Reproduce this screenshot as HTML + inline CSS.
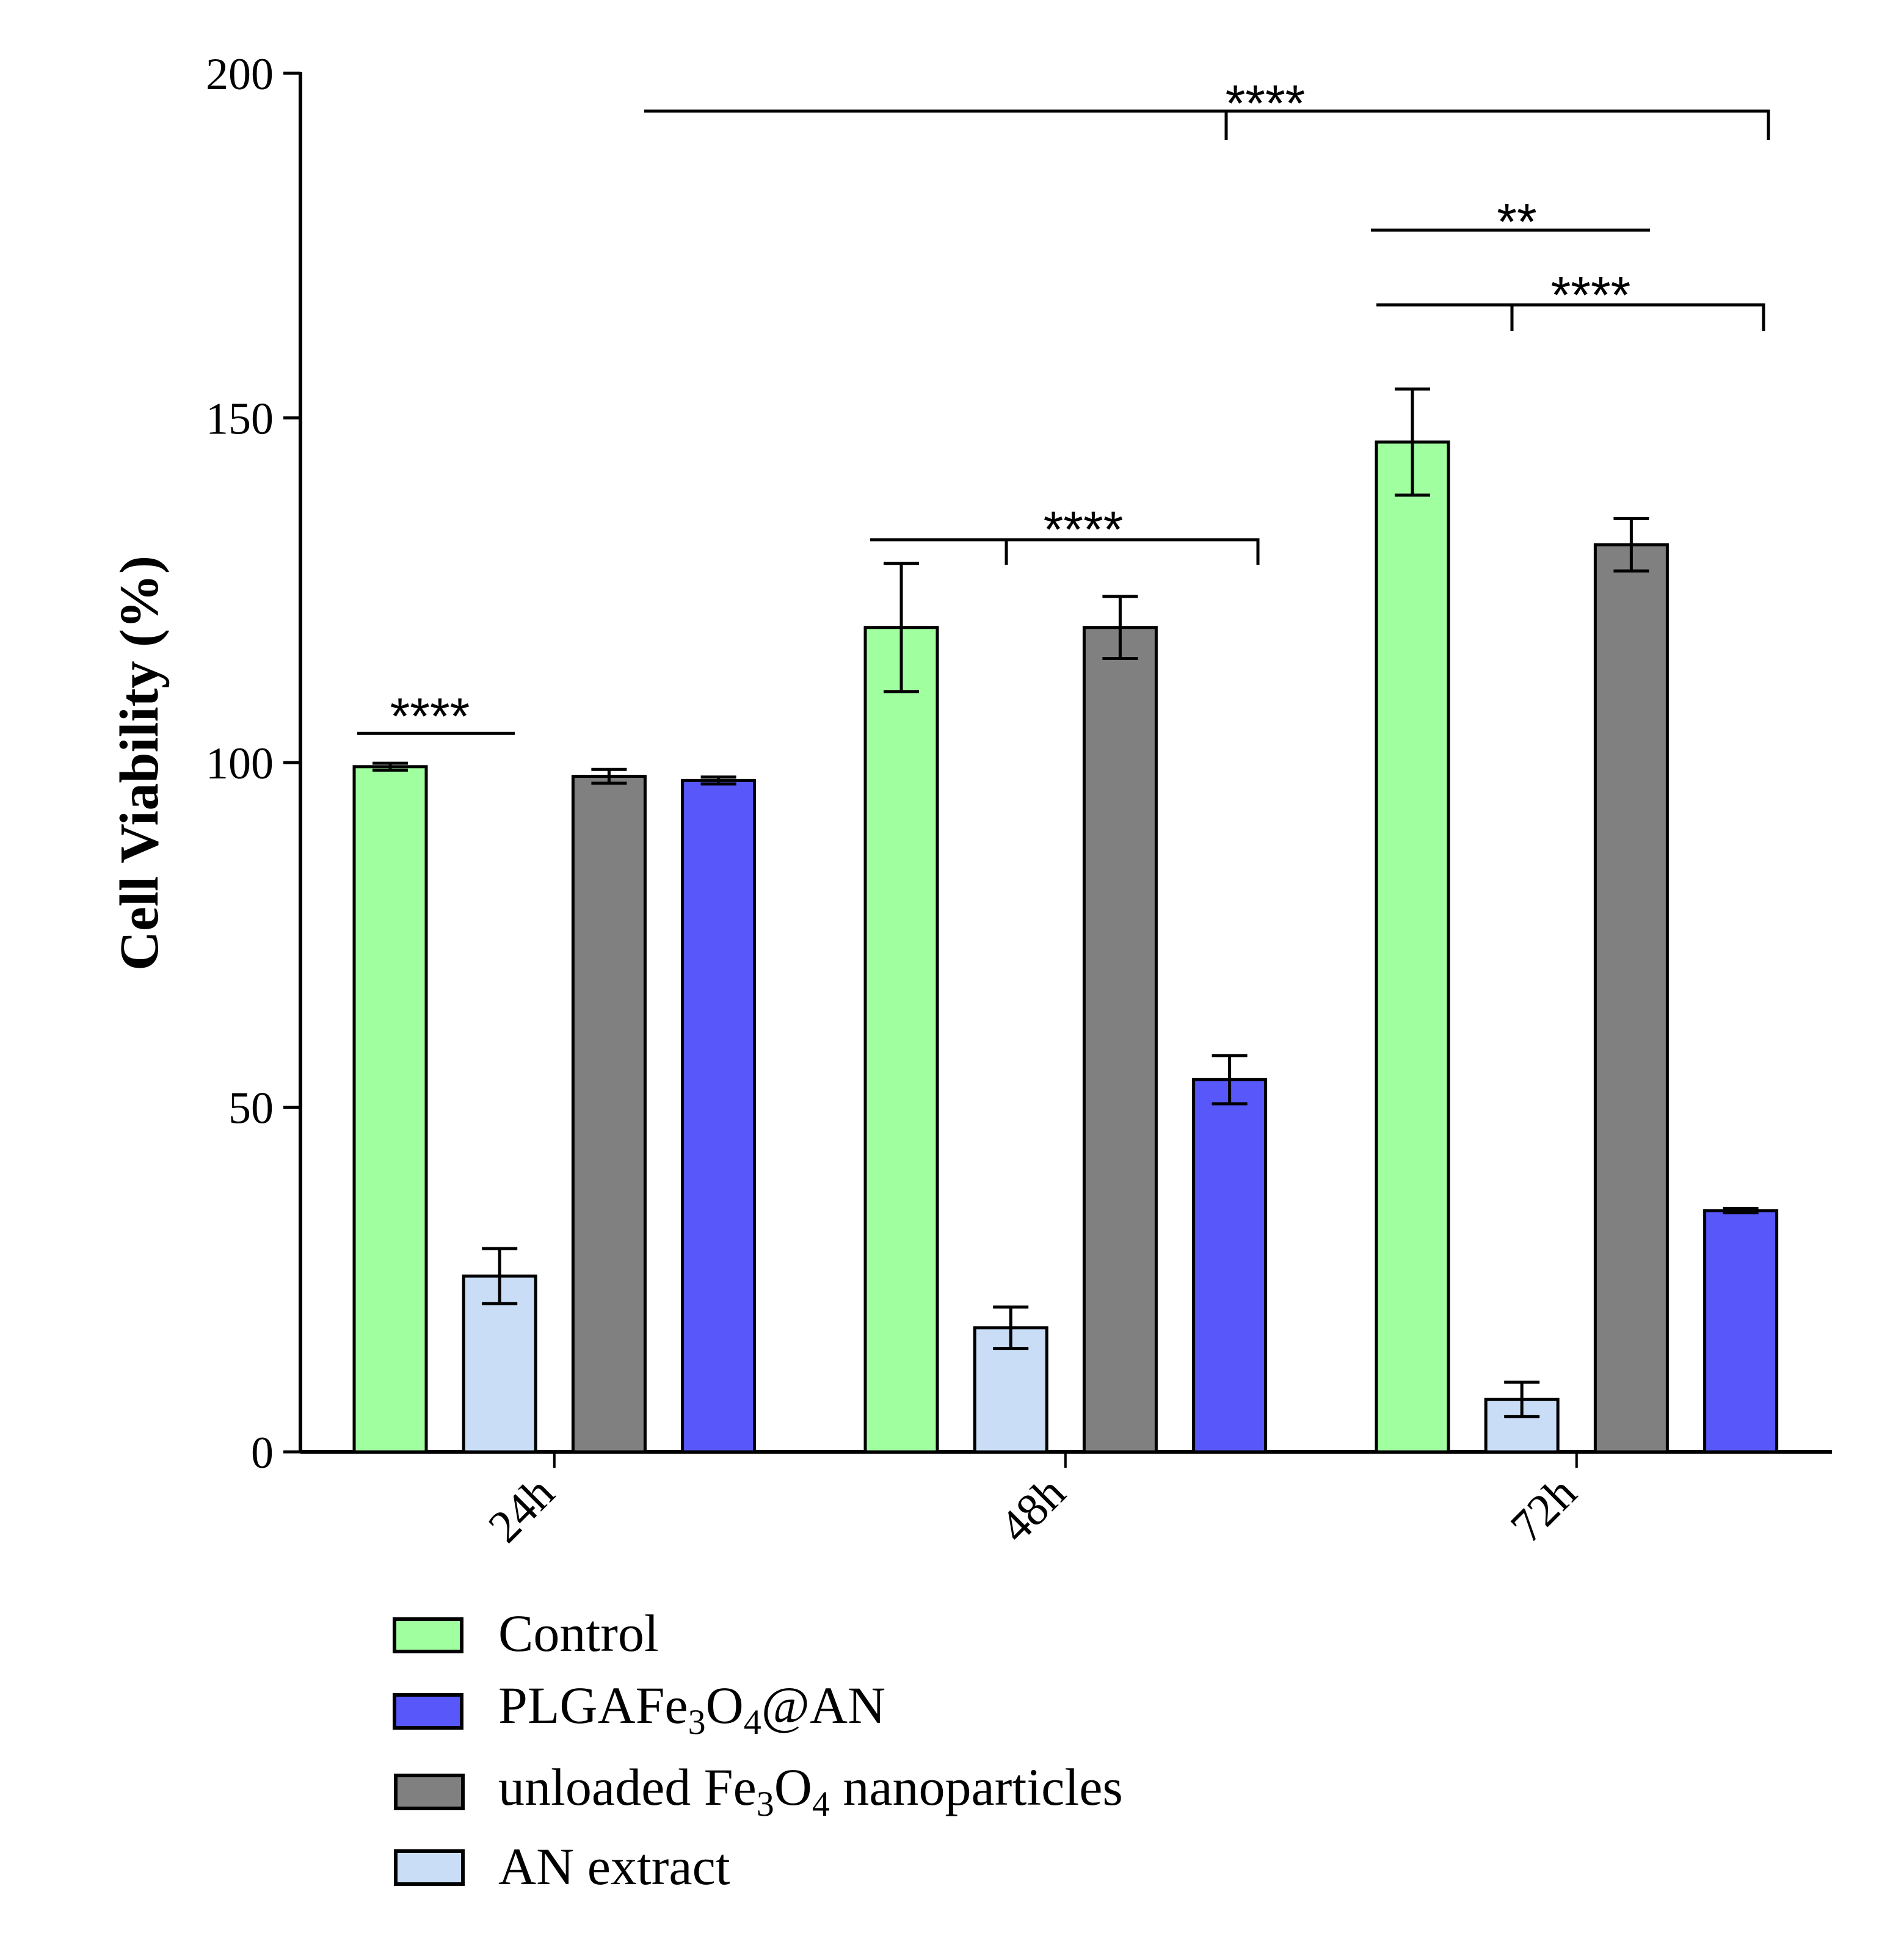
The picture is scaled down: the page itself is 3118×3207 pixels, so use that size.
<!DOCTYPE html>
<html><head><meta charset="utf-8"><style>html,body{margin:0;padding:0;background:#fff}svg{display:block}</style></head>
<body>
<svg id="chart" width="3118" height="3207" viewBox="0 0 1559 1603.5" xmlns="http://www.w3.org/2000/svg" font-family="'Liberation Serif', serif">
<g id="axes"></g>
<g id="bars"></g>
<g id="sig"></g>
<text transform="translate(129,625) rotate(-90)" text-anchor="middle" font-size="45" font-weight="bold">Cell Viability (%)</text>
<g font-size="43">
  <g><rect x="323" y="1326" width="55" height="26.5" fill="#a0ff9e" stroke="#000" stroke-width="3"/><text x="408" y="1352">Control</text></g>
  <g><rect x="323" y="1388" width="55" height="27" fill="#5757fa" stroke="#000" stroke-width="3"/><text x="408" y="1411">PLGAFe<tspan font-size="29" dy="9">3</tspan><tspan dy="-9">O</tspan><tspan font-size="29" dy="9">4</tspan><tspan dy="-9">@AN</tspan></text></g>
  <g><rect x="324" y="1454" width="55" height="27" fill="#808080" stroke="#000" stroke-width="3"/><text x="408" y="1478">unloaded Fe<tspan font-size="29" dy="9">3</tspan><tspan dy="-9">O</tspan><tspan font-size="29" dy="9">4</tspan><tspan dy="-9"> nanoparticles</tspan></text></g>
  <g><rect x="324" y="1516" width="55" height="27" fill="#c9ddf7" stroke="#000" stroke-width="3"/><text x="408" y="1543">AN extract</text></g>
</g>
<script>
const categories = ["24h","48h","72h"];
const seriesNames = ["Control","AN extract","unloaded Fe3O4","PLGAFe3O4@AN"];
const seriesColors = ["#a0ff9e","#c9ddf7","#808080","#5757fa"];
const controlVals = [99.4,119.6,146.5];
const anVals = [25.5,18,7.6];
const unloadedVals = [98.0,119.6,131.6];
const plgaVals = [97.4,54,35];
const controlErr = [0.5,9.3,7.7];
const anErr = [4,3,2.5];
const unloadedErr = [1,4.5,3.8];
const plgaErr = [0.5,3.5,0.3];
const yTicks = [0,50,100,150,200];

const NS="http://www.w3.org/2000/svg";
function mk(tag, attrs, parent){const e=document.createElementNS(NS,tag);for(const k in attrs)e.setAttribute(k,attrs[k]);parent.appendChild(e);return e;}
const y0=1189, y200=60;
function yS(v){return y0-(v/200)*(y0-y200);}
function barX(g,s){return 290+g*418.5+s*89.6;}
const BW=59;
const axes=document.getElementById('axes');
let l=mk('line',{x1:246,y1:y200-1,x2:246,y2:y0,stroke:'#000','stroke-width':3},axes);


l=mk('line',{x1:246,y1:y0,x2:1500,y2:y0,stroke:'#000','stroke-width':3},axes);


yTicks.forEach(t=>{
  const tk=mk('line',{x1:232,y1:yS(t),x2:246,y2:yS(t),stroke:'#000','stroke-width':2.5},axes);
  
  
  const tx=mk('text',{x:224,y:yS(t)+13,'text-anchor':'end','font-size':37},axes);
  tx.textContent=t;
  
  
});
categories.forEach((c,g)=>{
  const cx=(barX(g,0)+barX(g,3)+BW)/2;
  const tk=mk('line',{x1:cx,y1:y0,x2:cx,y2:y0+13,stroke:'#000','stroke-width':2},axes);
  
  
  const tx=mk('text',{transform:`translate(${cx+2},${y0+36}) rotate(-45)`,'text-anchor':'end','font-size':38},axes);
  tx.textContent=c;
  
  
});
const vals=[controlVals,anVals,unloadedVals,plgaVals];
const errs=[controlErr,anErr,unloadedErr,plgaErr];
const bars=document.getElementById('bars');
categories.forEach((c,g)=>{
  vals.forEach((sv,s)=>{
    const x=barX(g,s), v=sv[g];
    const r=mk('rect',{x:x,y:yS(v),width:BW,height:y0-yS(v),fill:seriesColors[s],stroke:'#000','stroke-width':2.5},bars);
    
    
    const e=errs[s][g], cx=x+BW/2;
    const eb=mk('path',{d:`M${cx},${yS(v+e)}V${yS(v-e)}M${cx-14.5},${yS(v+e)}H${cx+14.5}M${cx-14.5},${yS(v-e)}H${cx+14.5}`,stroke:'#000','stroke-width':2.5,fill:'none'},bars);
    
    
  });
});
const sig=document.getElementById('sig');
function br(d,tx,ty,label){
  const p=mk('path',{d:d,stroke:'#000','stroke-width':2.5,fill:'none'},sig);
  
  
  const t=mk('text',{x:tx,y:ty,'text-anchor':'middle','font-size':42,'font-family':"'Liberation Sans', sans-serif"},sig);
  t.textContent=label;
  
  
}
br('M292.5,600.6H421.5',352,601,'****');
br('M712.5,442H1030V462.5M824,442V462.5',887,448,'****');
br('M527.5,91H1448V114.5M1004,91V114.5',1036,99,'****');
br('M1122.5,188.5H1351',1242,196,'**');
br('M1127,249.7H1444V271M1238,249.7V271',1302.5,256,'****');
</script>
</svg>
</body></html>
